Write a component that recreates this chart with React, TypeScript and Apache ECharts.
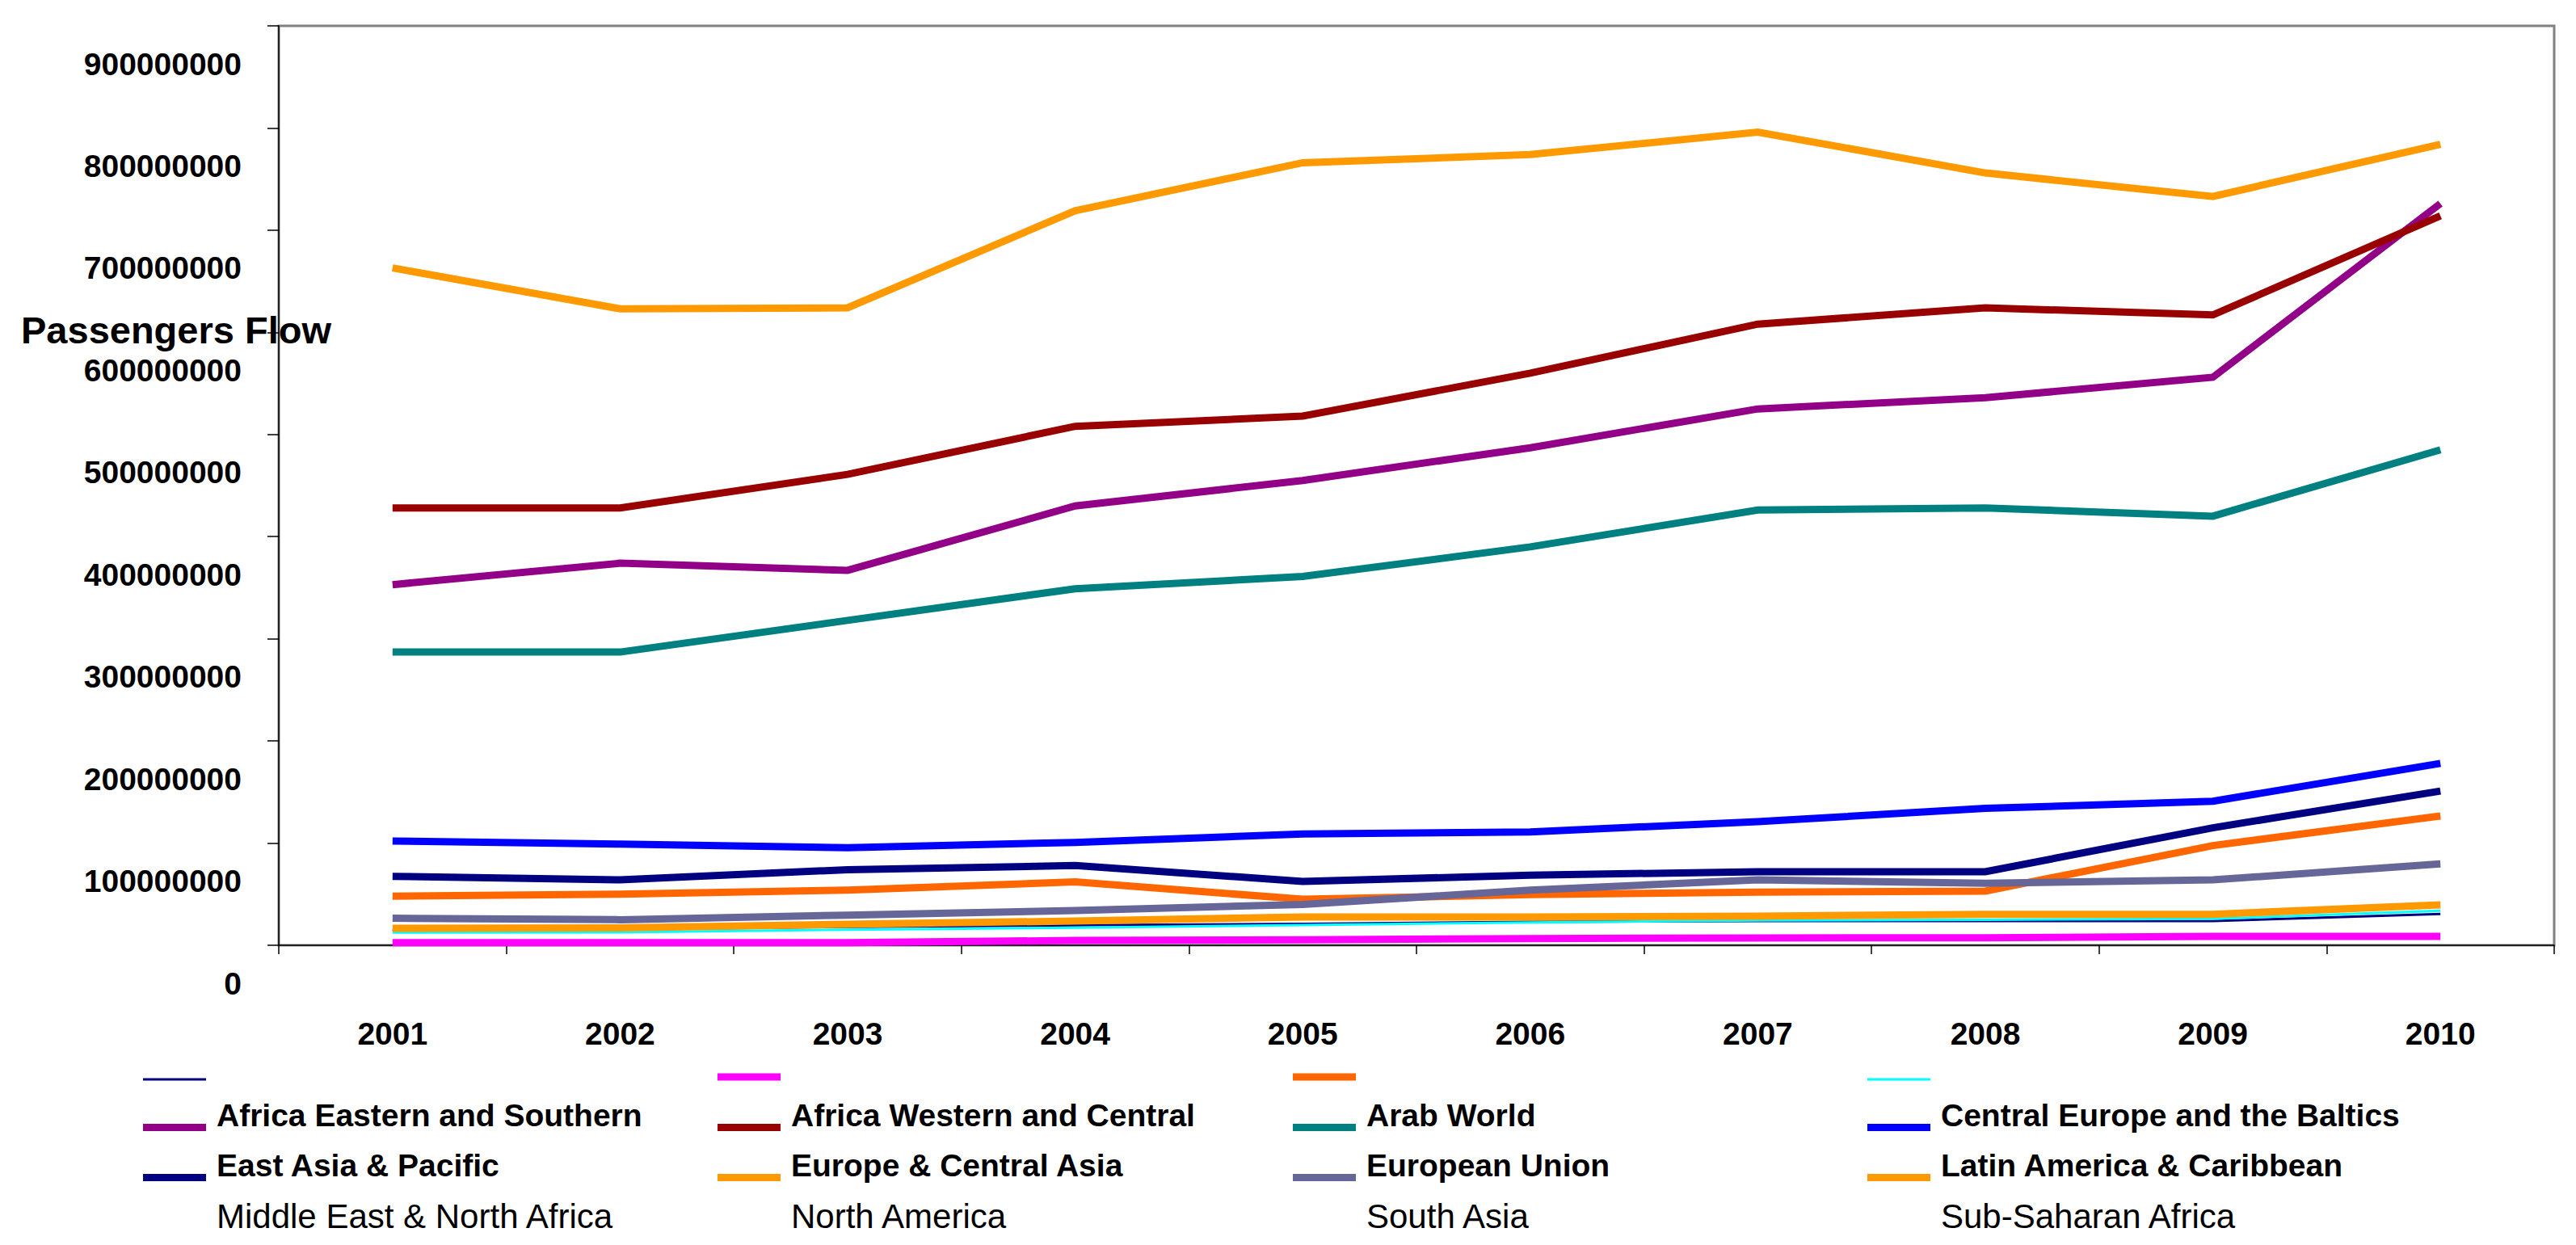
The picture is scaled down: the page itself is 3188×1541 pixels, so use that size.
import React, { useEffect, useRef } from "react";
import * as echarts from "echarts";

const years = ["2001", "2002", "2003", "2004", "2005", "2006", "2007", "2008", "2009", "2010"];

// legend texts in the order of the reference legend (4 columns x 4 rows)
const legendLabels = [
  "", "", "", "",
  "Africa Eastern and Southern", "Africa Western and Central", "Arab World", "Central Europe and the Baltics",
  "East Asia & Pacific", "Europe & Central Asia", "European Union", "Latin America & Caribbean",
  "Middle East & North Africa", "North America", "South Asia", "Sub-Saharan Africa",
];

// values (passengers)
const thinNavy = [15e6, 15.5e6, 18e6, 19.5e6, 21e6, 23e6, 23.7e6, 23.7e6, 23.7e6, 30.7e6];
const magentaLine = [2.5e6, 2.5e6, 2.6e6, 4.7e6, 5.3e6, 6.6e6, 7.1e6, 7.4e6, 8.7e6, 8.7e6];
const orangeRedLine = [48e6, 50e6, 54e6, 62e6, 45e6, 49.6e6, 52e6, 53e6, 97.6e6, 126.6e6];
const cyanLine = [12.5e6, 12.7e6, 15.3e6, 17.2e6, 19.8e6, 22.4e6, 24.3e6, 25e6, 25.9e6, 33.8e6];
const africaEastSouth = [353e6, 374e6, 367e6, 430e6, 455e6, 487e6, 525e6, 536e6, 556e6, 726e6];
const africaWestCentral = [428e6, 428e6, 461e6, 508e6, 518e6, 560e6, 608e6, 624e6, 617e6, 714e6];
const arabWorld = [287e6, 287e6, 318e6, 349e6, 361e6, 390e6, 426e6, 428e6, 420e6, 485e6];
const centralEurope = [102e6, 99e6, 95.5e6, 100.7e6, 109e6, 111e6, 121e6, 134e6, 141e6, 178e6];
const eastAsiaPacific = [67.5e6, 64e6, 74e6, 78e6, 62.5e6, 68.6e6, 72e6, 72e6, 115e6, 151e6];
const europeCentralAsia = [663e6, 623e6, 624e6, 719e6, 766e6, 774e6, 796e6, 756e6, 733e6, 784e6];
const europeanUnion = [26.5e6, 25e6, 29.5e6, 34e6, 40e6, 54e6, 64e6, 60.7e6, 64e6, 79.6e6];
const latinAmerica = [16.6e6, 17e6, 20.6e6, 23.7e6, 27.7e6, 27.7e6, 28.5e6, 30.3e6, 30.3e6, 39.6e6];

const seriesValues: number[][] = [
  thinNavy, magentaLine, orangeRedLine, cyanLine,
  africaEastSouth, africaWestCentral, arabWorld, centralEurope,
  eastAsiaPacific, europeCentralAsia, europeanUnion, latinAmerica,
  [], [], [], [],
];

const seriesColors = [
  "#000080", "#FF00FF", "#FF6600", "#00FFFF",
  "#930088", "#990000", "#008080", "#0000FF",
  "#000080", "#FF9900", "#666699", "#FF9900",
  "rgba(0,0,0,0)", "rgba(0,0,0,0)", "rgba(0,0,0,0)", "rgba(0,0,0,0)",
];
const seriesWidths = [3, 9, 9, 3, 9, 9, 9, 9, 9, 9, 9, 9, 0, 0, 0, 0];

const yTitle = "Passengers Flow";
const FONT = '"Liberation Sans", Arial, sans-serif';

export default function App() {
  const ref = useRef<HTMLDivElement>(null);
  useEffect(() => {
    if (!ref.current) return;
    const chart = echarts.init(ref.current, undefined, { renderer: "svg" });
    const keys = legendLabels.map((l, i) => (l ? l : "blank" + (i + 1)));

    const legendCols = [177, 888, 1600, 2311];
    const legendRows = [1333, 1395, 1457, 1519];
    const legends = keys.map((k, i) => {
      const row = Math.floor(i / 4);
      const col = i % 4;
      const thin = seriesWidths[i] === 3;
      return {
        show: true,
        selectedMode: false,
        orient: "horizontal",
        padding: 0,
        left: legendCols[col],
        top: legendRows[row] - 34.5,
        itemWidth: 78,
        itemHeight: 39,
        itemGap: 0,
        icon: thin ? "path://M0,0M0,36L78,36L78,39L0,39Z" : "path://M0,0M0,30L78,30L78,39L0,39Z",
        itemStyle: { borderWidth: 0 },
        data: [k],
        formatter: () => legendLabels[i],
        textStyle: {
          fontFamily: FONT,
          fontSize: row === 3 ? 42 : 39,
          fontWeight: row === 3 ? "normal" : "bold",
          color: "#000",
          lineHeight: 40,
          padding: [0, 0, 0, 8],
        },
      };
    });

    const series = keys.map((k, i) => ({
      type: "line",
      name: k,
      data: seriesValues[i],
      symbol: "none",
      showSymbol: false,
      color: seriesColors[i],
      lineStyle: { color: seriesColors[i], width: seriesWidths[i], join: "miter", cap: "butt" },
      itemStyle: { color: seriesColors[i] },
      emphasis: { disabled: true },
      z: 2 + i * 0.01,
    }));

    chart.setOption({
      animation: false,
      backgroundColor: "#fff",
      grid: {
        left: 345,
        right: 27,
        top: 32,
        bottom: 371,
        show: true,
        borderColor: "#808080",
        borderWidth: 3,
        backgroundColor: "transparent",
      },
      legend: legends,
      xAxis: {
        type: "category",
        data: years,
        boundaryGap: true,
        axisLine: { show: true, lineStyle: { color: "#000", width: 1.5 } },
        axisTick: { show: true, length: 11, alignWithLabel: false, lineStyle: { color: "#000", width: 1.5 } },
        axisLabel: {
          fontFamily: FONT,
          fontSize: 39,
          fontWeight: "bold",
          color: "#000",
          margin: 90,
          lineHeight: 38,
        },
        splitLine: { show: false },
      },
      yAxis: {
        type: "value",
        min: 0,
        max: 900000000,
        interval: 100000000,
        axisLine: { show: true, lineStyle: { color: "#000", width: 1.5 } },
        axisTick: { show: true, length: 14, lineStyle: { color: "#000", width: 1.5 } },
        axisLabel: {
          fontFamily: FONT,
          fontSize: 39,
          fontWeight: "bold",
          color: "#000",
          margin: 46,
          verticalAlign: "top",
          lineHeight: 38,
          padding: [28, 0, 0, 0],
          formatter: (v: number) => String(Math.round(v)),
        },
        splitLine: { show: false },
      },
      graphic: [
        {
          type: "text",
          x: 26,
          y: 408,
          z: 100,
          style: {
            text: yTitle,
            fontFamily: FONT,
            fontSize: 47,
            fontWeight: "bold",
            fill: "#000",
            verticalAlign: "middle",
            align: "left",
          },
        },
      ],
      series,
    });
    return () => chart.dispose();
  }, []);
  return (
    <div
      ref={ref}
      style={{ position: "fixed", left: 0, top: 0, width: 3188, height: 1541, background: "#fff" }}
    />
  );
}
